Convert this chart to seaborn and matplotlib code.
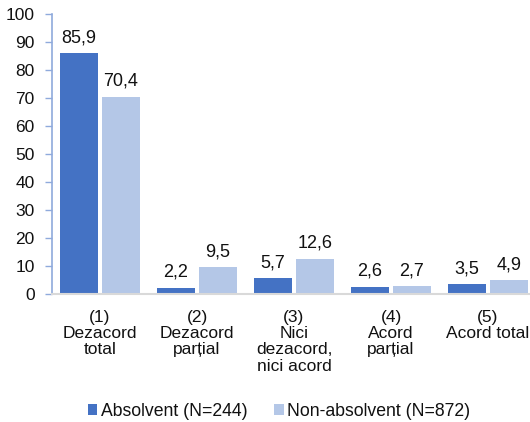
import matplotlib
matplotlib.use("Agg")
import matplotlib.pyplot as plt
import seaborn as sns
import pandas as pd

categories = ["(1)\nDezacord\ntotal", "(2)\nDezacord\nparțial", "(3)\nNici\ndezacord,\nnici acord",
              "(4)\nAcord\nparțial", "(5)\nAcord total"]
series_names = ["Absolvent (N=244)", "Non-absolvent (N=872)"]
absolvent = [85.9, 2.2, 5.7, 2.6, 3.5]
non_absolvent = [70.4, 9.5, 12.6, 2.7, 4.9]
colors = ["#4472C4", "#B4C7E7"]

df = pd.DataFrame({
    "cat": categories * 2,
    "serie": [series_names[0]] * 5 + [series_names[1]] * 5,
    "val": absolvent + non_absolvent,
})

sns.set_theme(style="white")
plt.rcParams["font.family"] = ["Liberation Sans", "DejaVu Sans"]

W, H = 530, 422
fig = plt.figure(figsize=(W / 100, H / 100), dpi=100)
left_px, right_px, top_px, bot_px = 51.5, 536.5, 14, 294
ax = fig.add_axes([left_px / W, 1 - bot_px / H, (right_px - left_px) / W, (bot_px - top_px) / H])
sns.barplot(data=df, x="cat", y="val", hue="serie", palette=colors, ax=ax,
            width=0.865, gap=0.1, saturation=1, linewidth=0)

for cont in ax.containers:
    labels = [f"{v:.1f}".replace(".", ",") for v in cont.datavalues]
    ax.bar_label(cont, labels=labels, padding=5, fontsize=13, color="#111111")

ax.set_ylim(0, 100)
ax.set_yticks(range(0, 101, 10))
ax.set_xlim(-0.5, 4.5)
ax.set_xlabel("")
ax.set_ylabel("")
ax.tick_params(axis="y", labelsize=12.5, length=5, width=1, color="#8FAADC", direction="out", pad=7, left=True)
ax.tick_params(axis="x", labelsize=12.5, length=0, pad=11.5)
for s in ["top", "right"]:
    ax.spines[s].set_visible(False)
ax.spines["left"].set_color("#8FAADC")
ax.spines["left"].set_linewidth(1.2)
ax.spines["bottom"].set_color("#D9D9D9")
ax.spines["bottom"].set_linewidth(1.5)
ax.grid(False)
for lbl in ax.get_yticklabels():
    lbl.set_color("#111111")
for lbl in ax.get_xticklabels():
    lbl.set_color("#111111")
    lbl.set_linespacing(1.1)

handles, labs = ax.get_legend_handles_labels()
leg = ax.legend(handles, labs, loc="center", bbox_to_anchor=(279 / W, 1 - 411 / H),
                bbox_transform=fig.transFigure, ncol=2, frameon=False, fontsize=12.7,
                handlelength=0.55, handleheight=0.55, handletextpad=0.2, columnspacing=1.5,
                borderpad=0, borderaxespad=0)
for t in leg.get_texts():
    t.set_color("#111111")

fig.savefig("out.png", dpi=100)
